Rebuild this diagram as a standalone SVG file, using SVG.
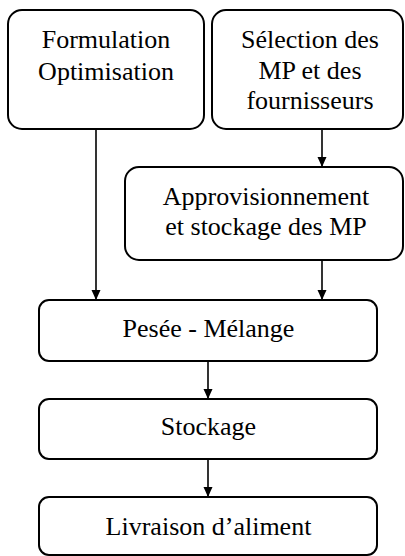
<svg xmlns="http://www.w3.org/2000/svg" width="405" height="556" viewBox="0 0 405 556">
<style>
.box{fill:#fff;stroke:#000;stroke-width:2}
.lbl{font-family:'Liberation Serif','Noto Serif','DejaVu Serif',Tinos,Georgia,'Times New Roman',Times,serif;font-size:26px;fill:#000;text-anchor:middle}
.con{stroke:#000;stroke-width:1.6;fill:none}
</style>
<defs>
<marker id="arr" markerUnits="userSpaceOnUse" markerWidth="10" markerHeight="12" viewBox="0 0 10 12" refX="10" refY="5" orient="auto">
<path d="M0,0.5 L10,5 L0,9.5 Z" fill="#000"/>
</marker>
</defs>
<rect width="405" height="556" fill="#fff"/>
<g id="connectors">
<line class="con" x1="96" y1="129" x2="96" y2="300" marker-end="url(#arr)"/>
<line class="con" x1="322" y1="129" x2="322" y2="167" marker-end="url(#arr)"/>
<line class="con" x1="322" y1="260" x2="322" y2="300" marker-end="url(#arr)"/>
<line class="con" x1="208" y1="361" x2="208" y2="399" marker-end="url(#arr)"/>
<line class="con" x1="208" y1="459" x2="208" y2="497" marker-end="url(#arr)"/>
</g>
<g id="formulation">
<rect class="box" x="8" y="10" width="196" height="119" rx="14"/>
<text class="lbl" x="106" y="48">Formulation</text>
<text class="lbl" x="106" y="80">Optimisation</text>
</g>
<g id="selection">
<rect class="box" x="212" y="10" width="191" height="119" rx="14"/>
<text class="lbl" x="310" y="48">Sélection des</text>
<text class="lbl" x="310" y="79">MP et des</text>
<text class="lbl" x="310" y="109">fournisseurs</text>
</g>
<g id="approvisionnement">
<rect class="box" x="125" y="167" width="278" height="93" rx="14"/>
<text class="lbl" x="266" y="205">Approvisionnement</text>
<text class="lbl" x="266" y="235">et stockage des MP</text>
</g>
<g id="pesee">
<rect class="box" x="39" y="300" width="338" height="61" rx="10"/>
<text class="lbl" x="208.5" y="337">Pesée - Mélange</text>
</g>
<g id="stockage">
<rect class="box" x="39" y="399" width="338" height="60" rx="10"/>
<text class="lbl" x="208.5" y="435">Stockage</text>
</g>
<g id="livraison">
<rect class="box" x="39" y="497" width="338" height="58" rx="10"/>
<text class="lbl" x="208.5" y="535">Livraison d’aliment</text>
</g>
</svg>
